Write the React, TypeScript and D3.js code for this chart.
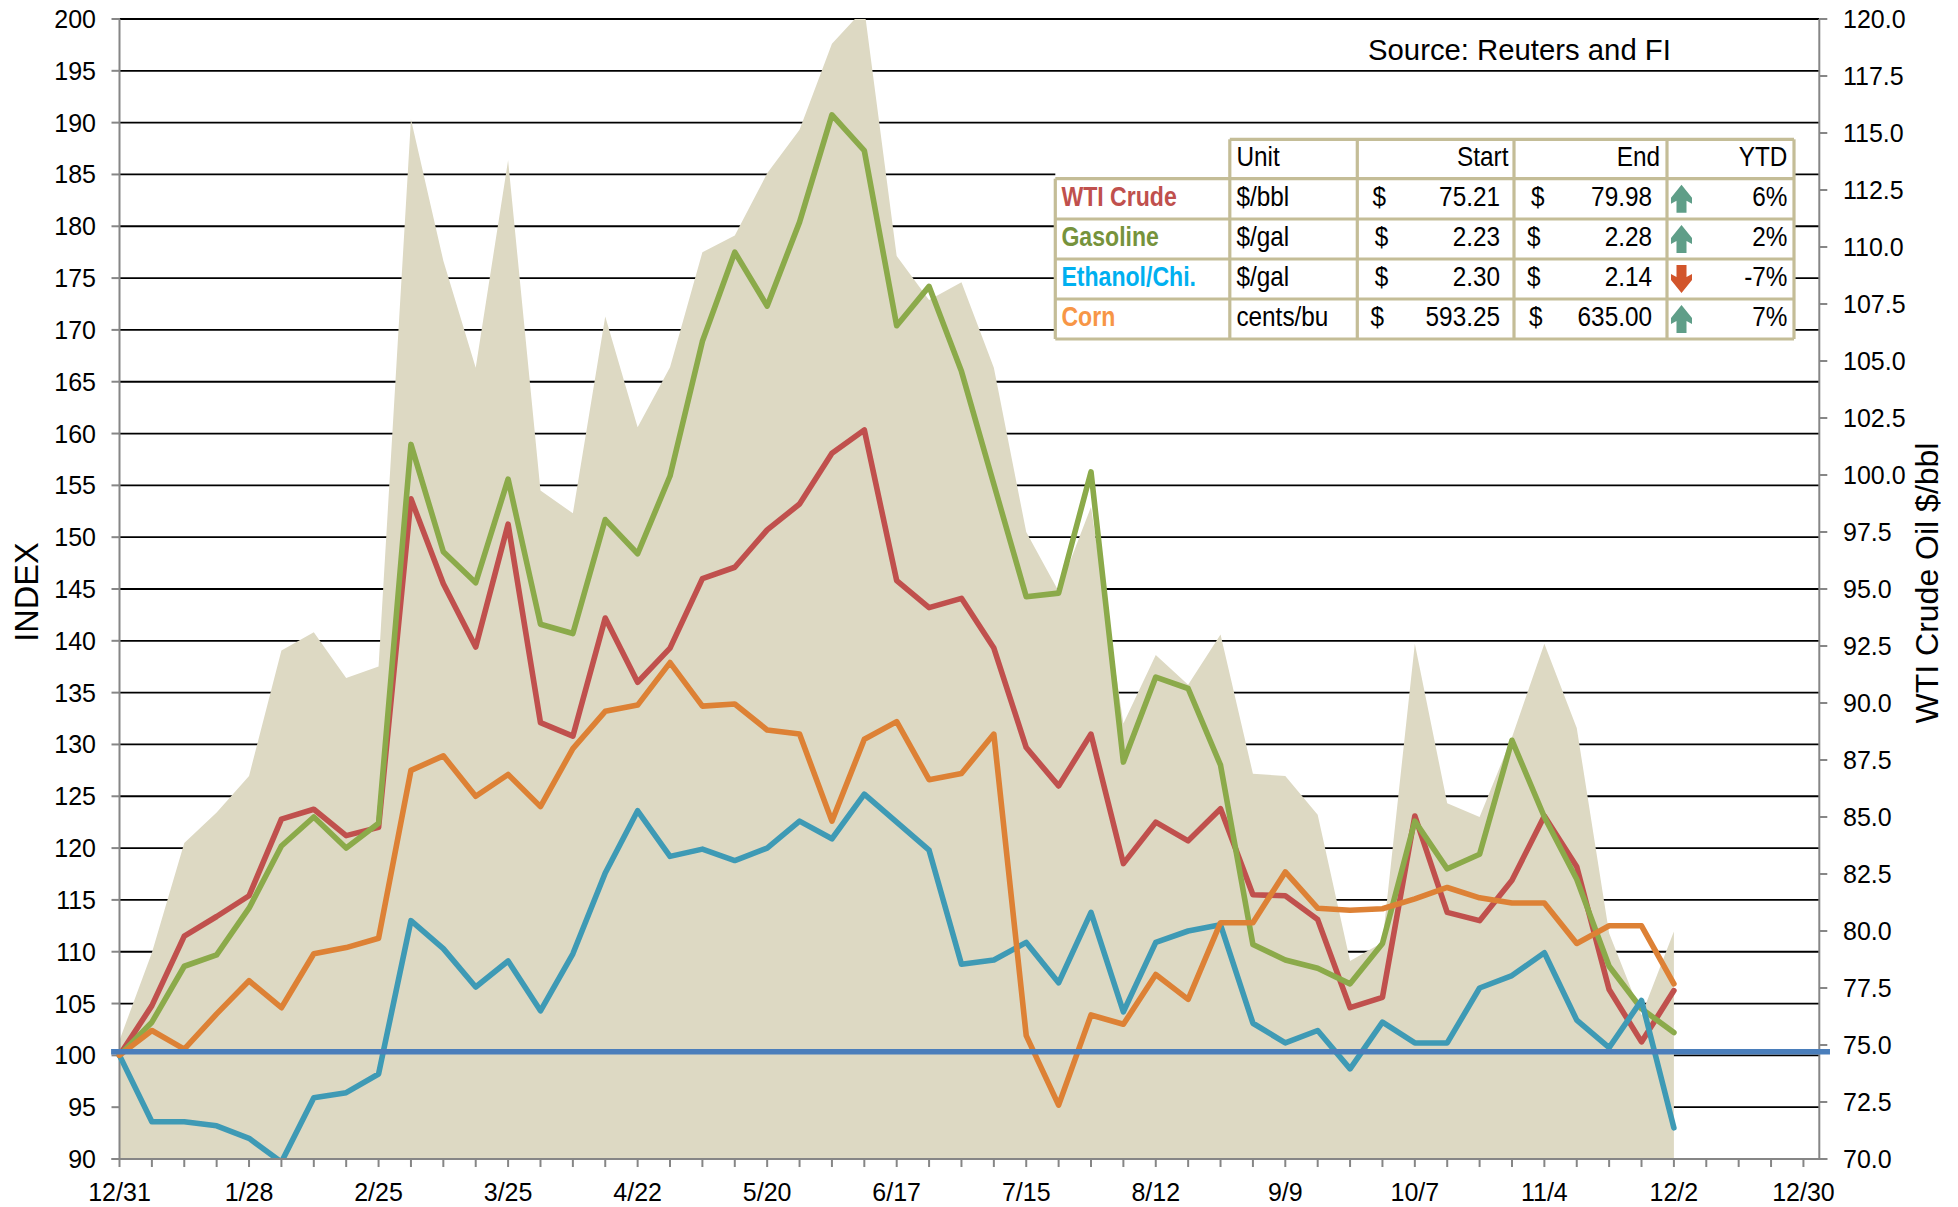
import React from "react";
import * as d3 from "d3";

// Weekly observations (index 0 = 12/31)
const wtiPrice = [75.21,79.05,83.86,85.2,86.8,92.3,93.1,91.1,91.6,115.6,109.4,104.7,113.8,99.32,98.32,106.95,102.09,104.73,109.77,110.5,113.23,115.14,118.91,120.45,109.6,107.68,108.45,104.7,97.5,94.9,98.6,89.1,92.1,90.8,93.0,86.9,86.8,85.1,78.68,79.5,92.6,85.6,85.0,88.5,92.6,88.9,79.9,76.3,79.98];
const wtiIndex = [100,104.8,111.5,113.4,115.4,122.8,123.75,121.2,122.0,153.7,145.5,139.4,151.25,132.1,130.8,142.2,136.0,139.3,146.0,147.1,150.7,153.2,158.1,160.35,145.8,143.2,144.1,139.3,129.7,126.0,131.0,118.5,122.5,120.7,123.8,115.5,115.4,113.1,104.6,105.6,123.1,113.8,113.0,116.9,123.1,118.2,106.35,101.3,106.25];
const gasolineIndex = [100,103.2,108.6,109.7,114.2,120.2,123.0,120.0,122.4,158.95,148.6,145.6,155.6,141.6,140.7,151.7,148.4,155.9,168.9,177.5,172.3,180.4,190.75,187.3,170.4,174.2,166.0,155.1,144.25,144.6,156.3,128.3,136.5,135.4,128.0,110.7,109.2,108.4,106.9,110.8,122.6,118.0,119.4,130.4,123.0,117.0,108.6,104.5,102.2];
const ethanolIndex = [100,93.6,93.6,93.2,92.0,89.7,95.9,96.4,98.2,113.0,110.3,106.6,109.1,104.3,109.8,117.6,123.6,119.2,119.9,118.8,120.0,122.6,120.9,125.2,122.5,119.8,108.8,109.2,110.9,107.0,113.8,104.2,110.9,112.0,112.6,103.1,101.2,102.4,98.7,103.2,101.2,101.2,106.5,107.7,109.9,103.4,100.75,105.3,93.0];
const cornIndex = [100,102.4,100.6,104.0,107.2,104.6,109.8,110.4,111.3,127.5,128.9,125.0,127.1,124.0,129.6,133.2,133.8,137.9,133.7,133.9,131.4,131.0,122.6,130.5,132.2,126.6,127.2,131.0,101.9,95.2,103.9,103.0,107.8,105.4,112.8,112.8,117.7,114.2,114.0,114.15,115.1,116.2,115.2,114.7,114.7,110.8,112.5,112.5,106.9];
const baselineValue = 100.35;

const dateLabels = ["12/31","1/28","2/25","3/25","4/22","5/20","6/17","7/15","8/12","9/9","10/7","11/4","12/2","12/30"];
const leftTicks = d3.range(90, 201, 5);
const rightTicks = d3.range(70, 120.01, 2.5);
const weekTicks = d3.range(0, 53);

const tableHead = ["Unit", "Start", "End", "YTD"];
const tableNames = ["WTI Crude", "Gasoline", "Ethanol/Chi.", "Corn"];
const tableUnits = ["$/bbl", "$/gal", "$/gal", "cents/bu"];
const tableStart = ["75.21", "2.23", "2.30", "593.25"];
const tableEnd = ["79.98", "2.28", "2.14", "635.00"];
const tableYtd = ["6%", "2%", "-7%", "7%"];
const tableDir = [1, 1, -1, 1];
const nameColors = ["#C0504D", "#76933C", "#00B0F0", "#F79646"];
const startDollarX = [1372.6, 1374.7, 1374.7, 1370.6];
const endDollarX = [1531, 1527, 1527, 1529];

const W = 1958, H = 1207;
const L = 119.5, R = 1819.3, T = 19, B = 1159;
const x = d3.scaleLinear().domain([0, 52.49]).range([L, R]);
const yL = d3.scaleLinear().domain([90, 200]).range([B, T]);
const yR = d3.scaleLinear().domain([70, 120]).range([B, T]);
const FONT = "'Liberation Sans', Arial, sans-serif";
const GRAY = "#868686";
const BORDER = "#C4BD97";

const area = d3.area<number>().x((_, i) => x(i)).y0(B).y1((d) => yR(d));
const line = d3.line<number>().x((_, i) => x(i)).y((d) => yL(d));

const seriesDefs: [number[], string][] = [
  [wtiIndex, "#C0504D"],
  [gasolineIndex, "#8BAA4A"],
  [ethanolIndex, "#3E9AB5"],
  [cornIndex, "#DD8135"],
];

const colX = [1055.3, 1229.8, 1357.3, 1514, 1667, 1794];
const rowY = [139.3, 178.7, 219, 259, 299, 339];
const baseY = [206, 246, 286, 326];

function Cell({ x: tx, y, anchor = "start", bold = false, fill = "#000", sx = 0.885, children }: any) {
  return (
    <text transform={`translate(${tx},${y}) scale(${sx},1)`} textAnchor={anchor} fontFamily={FONT}
      fontSize={27.5} fontWeight={bold ? "bold" : "normal"} fill={fill}>{children}</text>
  );
}

function Arrow({ cx, top, up }: { cx: number; top: number; up: boolean }) {
  const d = "M0,0 L10.5,13 L10.5,19 L5,16 L5,28 L-5,28 L-5,16 L-10.5,19 L-10.5,13 Z";
  return up
    ? <path d={d} transform={`translate(${cx},${top})`} fill="#5F9E88" />
    : <path d={d} transform={`translate(${cx},${top + 28}) scale(1,-1)`} fill="#D2552B" />;
}

export default function App() {
  return (
    <svg width={W} height={H} viewBox={`0 0 ${W} ${H}`}
      style={{ position: "absolute", left: 0, top: 0, display: "block", background: "#fff" }}>
      <defs>
        <clipPath id="plot"><rect x={L} y={T} width={R - L} height={B - T} /></clipPath>
        <clipPath id="plotWide"><rect x={0} y={0} width={W} height={B - 1} /></clipPath>
      </defs>

      {/* gridlines */}
      {leftTicks.slice(1).map((v) => (
        <line key={v} x1={L} x2={R} y1={yL(v)} y2={yL(v)} stroke="#000" strokeWidth={1.8} />
      ))}

      {/* crude oil area */}
      <path d={area(wtiPrice) as string} fill="#DDD9C3" clipPath="url(#plot)" />

      {/* axes */}
      <g stroke={GRAY} strokeWidth={2} fill="none">
        <line x1={L} x2={L} y1={T} y2={B} />
        <line x1={R} x2={R} y1={T} y2={B} />
        <line x1={L - 8} x2={R + 8} y1={B} y2={B} />
        {leftTicks.map((v) => <line key={v} x1={L - 8} x2={L} y1={yL(v)} y2={yL(v)} />)}
        {rightTicks.map((v) => <line key={v} x1={R} x2={R + 8} y1={yR(v)} y2={yR(v)} />)}
        {weekTicks.map((w) => <line key={w} x1={x(w)} x2={x(w)} y1={B} y2={B + 8} />)}
      </g>

      {/* series */}
      {seriesDefs.map(([vals, color], i) => (
        <path key={i} d={line(vals) as string} fill="none" stroke={color} strokeWidth={5.6}
          strokeLinecap="round" strokeLinejoin="round" clipPath="url(#plotWide)" />
      ))}
      <line x1={x(-0.26)} x2={x(52.82)} y1={yL(baselineValue)} y2={yL(baselineValue)} stroke="#4A7EBB" strokeWidth={5.4} />

      {/* tick labels */}
      <g fontFamily={FONT} fontSize={25} fill="#000">
        {leftTicks.map((v) => (
          <text key={v} x={96} y={yL(v) + 9} textAnchor="end">{v}</text>
        ))}
        {rightTicks.map((v) => (
          <text key={v} x={1843} y={yR(v) + 9}>{v.toFixed(1)}</text>
        ))}
        {dateLabels.map((d, i) => (
          <text key={d} x={x(i * 4)} y={1201} textAnchor="middle">{d}</text>
        ))}
      </g>

      {/* axis titles */}
      <text transform="translate(38,592) rotate(-90)" textAnchor="middle" fontFamily={FONT} fontSize={32.5}>INDEX</text>
      <text transform="translate(1938,583) rotate(-90)" textAnchor="middle" fontFamily={FONT} fontSize={32}>WTI Crude Oil $/bbl</text>

      <text x={1368} y={60} fontFamily={FONT} fontSize={29.3} fill="#000">Source: Reuters and FI</text>

      {/* table */}
      <rect x={colX[0]} y={rowY[0]} width={colX[5] - colX[0]} height={rowY[5] - rowY[0]} fill="#fff" />
      <g stroke={BORDER} strokeWidth={3.2} fill="none">
        <line x1={colX[1]} x2={colX[5]} y1={rowY[0]} y2={rowY[0]} />
        {rowY.slice(1).map((y) => <line key={y} x1={colX[0]} x2={colX[5]} y1={y} y2={y} />)}
        <line x1={colX[0]} x2={colX[0]} y1={rowY[1]} y2={rowY[5]} />
        {colX.slice(1).map((cx) => <line key={cx} x1={cx} x2={cx} y1={rowY[0]} y2={rowY[5]} />)}
      </g>
      <Cell x={1236.4} y={165.7}>{tableHead[0]}</Cell>
      <Cell x={1508.4} y={165.7} anchor="end">{tableHead[1]}</Cell>
      <Cell x={1660} y={165.7} anchor="end">{tableHead[2]}</Cell>
      <Cell x={1787.4} y={165.7} anchor="end">{tableHead[3]}</Cell>
      {tableNames.map((n, i) => (
        <g key={n}>
          <Cell x={1061.4} y={baseY[i]} bold fill={nameColors[i]} sx={0.84}>{n}</Cell>
          <Cell x={1236.4} y={baseY[i]}>{tableUnits[i]}</Cell>
          <Cell x={startDollarX[i]} y={baseY[i]}>$</Cell>
          <Cell x={1500} y={baseY[i]} anchor="end">{tableStart[i]}</Cell>
          <Cell x={endDollarX[i]} y={baseY[i]}>$</Cell>
          <Cell x={1652} y={baseY[i]} anchor="end">{tableEnd[i]}</Cell>
          <Arrow cx={1681.5} top={rowY[i + 1] + 6} up={tableDir[i] > 0} />
          <Cell x={1787.4} y={baseY[i]} anchor="end">{tableYtd[i]}</Cell>
        </g>
      ))}
    </svg>
  );
}
